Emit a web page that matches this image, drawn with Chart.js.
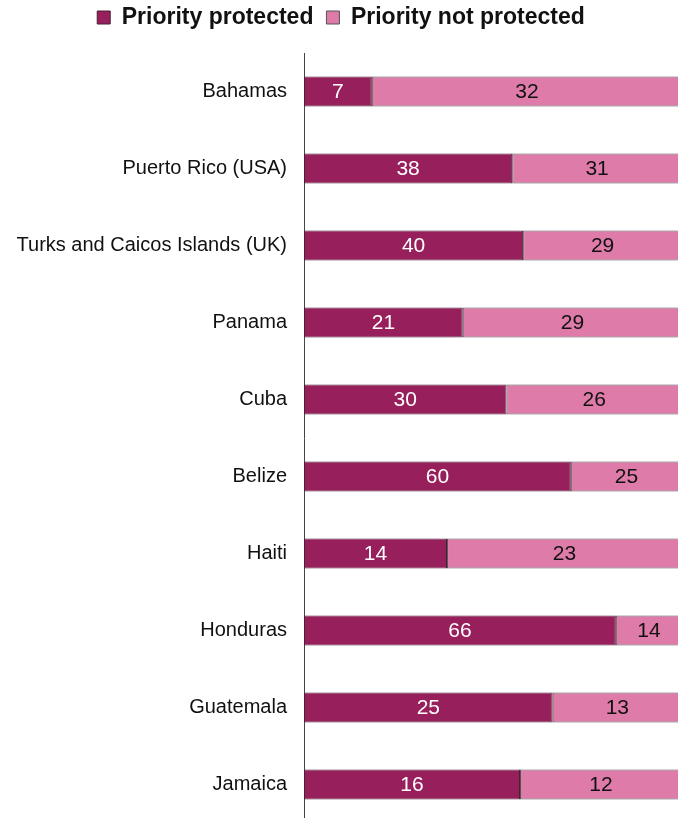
<!DOCTYPE html>
<html>
<head>
<meta charset="utf-8">
<script src="https://cdn.jsdelivr.net/npm/chart.js@4.4.1/dist/chart.umd.min.js"></script>
<style>
  body { margin: 0; background: #fff; }
  #wrap { width: 678px; height: 818px; overflow: hidden; position: relative; }
  canvas { position: absolute; left: 0; top: 0; }
</style>
</head>
<body>
<div id="wrap"><canvas id="chart" width="684" height="824"></canvas></div>
<script>
// sites per country, split by protection status
const countries = ["Bahamas", "Puerto Rico (USA)", "Turks and Caicos Islands (UK)", "Panama", "Cuba",
  "Belize", "Haiti", "Honduras", "Guatemala", "Jamaica"];
const protectedCounts = [7, 38, 40, 21, 30, 60, 14, 66, 25, 16];
const notProtectedCounts = [32, 31, 29, 29, 26, 25, 23, 14, 13, 12];

const DARK = "#971f5c";
const LIGHT = "#de7ba9";
const FONT = "'Liberation Sans', Arial, sans-serif";

// bars are shown as share of the country total
function share(counts) {
  return counts.map((c, i) => (c / (protectedCounts[i] + notProtectedCounts[i])) * 100);
}

// fixed legend band height above the plot
const legendHeight = {
  id: "legendHeight",
  beforeInit(chart) {
    const fit = chart.legend.fit;
    chart.legend.fit = function () {
      fit.bind(chart.legend)();
      this.height = 60;
    };
  }
};

// count labels centred in each segment
const segmentLabels = {
  id: "segmentLabels",
  afterDatasetsDraw(chart) {
    const ctx = chart.ctx;
    const counts = [protectedCounts, notProtectedCounts];
    ctx.save();
    ctx.font = "21px " + FONT;
    ctx.textAlign = "center";
    ctx.textBaseline = "middle";
    chart.data.datasets.forEach((ds, d) => {
      const meta = chart.getDatasetMeta(d);
      ctx.fillStyle = d === 0 ? "#ffffff" : "#111111";
      meta.data.forEach((bar, i) => {
        const x = (bar.x + bar.base) / 2;
        ctx.fillText(String(counts[d][i]), x, bar.y + 1);
      });
    });
    ctx.restore();
  }
};

new Chart(document.getElementById("chart"), {
  type: "bar",
  data: {
    labels: countries,
    datasets: [
      {
        label: "Priority protected",
        data: share(protectedCounts),
        backgroundColor: DARK,
        borderColor: "#4a2035",
        borderWidth: 1,
        borderSkipped: false
      },
      {
        label: "Priority not protected",
        data: share(notProtectedCounts),
        backgroundColor: LIGHT,
        borderColor: "#555555",
        borderWidth: 1,
        borderSkipped: false
      }
    ]
  },
  options: {
    indexAxis: "y",
    responsive: false,
    animation: false,
    layout: { padding: { left: 0, right: 2, top: -7, bottom: 1 } },
    datasets: { bar: { categoryPercentage: 1, barPercentage: 0.39 } },
    scales: {
      x: { stacked: true, display: false, min: 0, max: 100 },
      y: {
        stacked: true,
        grid: { display: false },
        border: { display: true, color: "#444444", width: 1 },
        ticks: {
          color: "#111111",
          padding: 9,
          font: { family: FONT, size: 20 }
        },
        afterFit(scale) {
          scale.width = 304;
          scale.paddingTop = 0;
          scale.paddingBottom = 0;
        }
      }
    },
    plugins: {
      tooltip: { enabled: false },
      legend: {
        position: "top",
        labels: {
          color: "#111111",
          boxWidth: 13,
          boxHeight: 13,
          padding: 13,
          font: { family: FONT, size: 23, weight: "bold" }
        }
      }
    }
  },
  plugins: [legendHeight, segmentLabels]
});
</script>
</body>
</html>
